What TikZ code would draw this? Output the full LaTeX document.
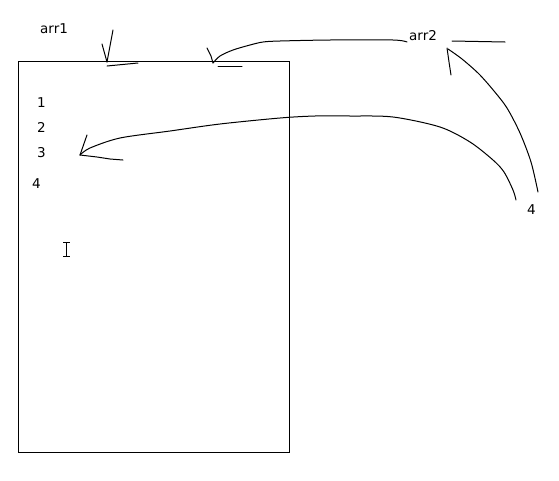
\documentclass[tikz,border=0pt]{standalone}
\usepackage{fontspec}
\setmainfont{DejaVu Sans}
\begin{document}
\begin{tikzpicture}[x=1pt,y=-1pt,
  pen/.style={line width=1pt,black,line cap=round,line join=round},
  lbl/.style={anchor=base west,inner sep=0pt,font=\fontsize{13.5}{15}\selectfont}]
\useasboundingbox (0,0) rectangle (559,480);

% page frame
\draw[line width=1pt] (18,61) rectangle (289,452);

% labels
\node[lbl] (arrA) at (40,33) {arr1};
\node[lbl] (arrB) at (409,40) {arr2};
\node[lbl] (n1) at (37,107) {1};
\node[lbl] (n2) at (37,132) {2};
\node[lbl] (n3) at (37,157) {3};
\node[lbl] (n4) at (32,188) {4};
\node[lbl] (n4r) at (527,214) {4};

% arr1 stroke with its underline
\draw[pen] (113,30) -- (107,62);
\draw[pen] (102,44) -- (107,62);
\draw[pen] (107,66) -- (138,63);

% arr2 stroke reaching the frame top
\draw[pen] (207,48) -- (211,56) -- (213,63);
\draw[pen] plot[smooth] coordinates {(213,63) (220,56) (233,50) (250,45) (263,42) (280,41) (330,40) (393,40) (407,42)};
\draw[pen] (218,66) -- (242,66);
\draw[pen] (452,41) -- (505,42);

% curve from the right-hand 4 up to arr2
\draw[pen] (447,48) -- (449,62) -- (451,75);
\draw[pen] plot[smooth] coordinates {(448,49) (462,59) (479,74) (494,91) (507,108) (520,133) (531,162) (538,192)};

% long curve from the right-hand 4 to item 3
\draw[pen] plot[smooth] coordinates {(516,200) (513,190) (504,172) (493,160) (470,142) (440,127) (393,117) (350,116) (315,116) (280,118) (220,124) (170,131) (120,138) (90,148) (80,155)};
\draw[pen] (87,135) -- (80,155);
\draw[pen] (80,155) -- (97,157) -- (110,159) -- (123,160);

% text cursor
\draw[line width=1pt] (66.5,242) -- (66.5,256);
\draw[line width=1pt] (63,242) -- (70,242);
\draw[line width=1pt] (63,256) -- (70,256);
\end{tikzpicture}
\end{document}
